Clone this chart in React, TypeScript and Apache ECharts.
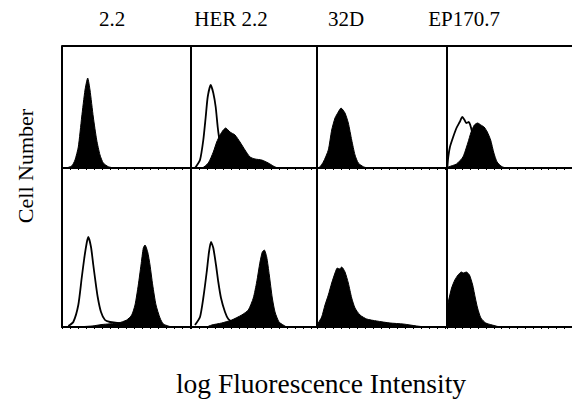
import React, { useEffect, useRef } from "react";
import * as echarts from "echarts";

// Column (cell line) labels
const COLUMN_LABELS = ["2.2", "HER 2.2", "32D", "EP170.7"];
const Y_LABEL = "Cell Number";
const X_LABEL = "log Fluorescence Intensity";

// Histograms: [log fluorescence channel, cell count]
// Top row
const top22Filled = [[0, 0], [3, 0], [9.7, 2], [13, 8], [16.3, 21], [19.7, 51], [23, 78], [25.7, 90], [28, 78], [31.3, 51], [34.7, 28], [38, 13], [41.3, 5], [46.3, 1.3], [53, 0], [129, 0]];
const topHerOpen = [[4, 0], [9, 8], [12.3, 28], [14.7, 51], [16.7, 71], [19.7, 83], [22.3, 75], [24.7, 61], [26.7, 41], [28, 31], [30, 18], [32, 8], [35, 2], [38, 0]];
const topHerFilled = [[0, 0], [10.7, 0], [17.3, 5], [22.3, 16], [25.7, 26], [29, 33], [32.3, 38], [34.7, 40], [39, 36], [44, 33], [49, 26], [54, 18], [59, 11], [64, 9], [70.7, 8], [77.3, 5], [82.3, 2], [87.3, 0], [126, 0]];
const top32DFilled = [[0, 0], [1.3, 0], [6.3, 6], [11.3, 18], [14.7, 38], [18, 50], [21.3, 56], [24, 60], [28, 55], [31.3, 45], [34.7, 28], [38, 13], [41.3, 5], [46.3, 1.3], [51.3, 0], [130, 0]];
const topEpOpen = [[0.3, 0], [1.3, 11], [3, 21], [6.3, 31], [9.7, 40], [13, 46], [15.7, 51], [18, 48], [19.7, 45], [22.3, 46], [24.7, 40], [27, 30], [30, 18], [33, 8], [36, 2], [40, 0]];
const topEpFilled = [[0, 0], [1.3, 1], [9.7, 4], [16.3, 11], [21.3, 25], [24.7, 36], [28, 43], [31.3, 45], [34.7, 43], [38, 41], [41.3, 36], [44.7, 28], [48, 15], [51.3, 6], [56.3, 1.3], [61.3, 0], [128, 0]];
// Bottom row
const bot22Open = [[6.3, 1], [11.3, 5], [16.3, 22], [19.7, 49], [22.3, 69], [24.7, 84], [26.3, 90], [29, 80], [31.3, 62], [33, 49], [35.7, 30], [39, 15], [43, 7], [48, 5], [56, 4], [62, 3], [70, 2], [80, 0]];
const bot22Filled = [[0, 0], [10, 0], [30, 1], [40, 2.5], [56.3, 4], [64.7, 7], [69.7, 12], [73, 22], [76.3, 42], [79, 62], [81.3, 79], [83, 82], [85.7, 75], [88, 62], [90.7, 42], [94, 22], [98, 9], [101.3, 3], [106.3, 1], [110, 0], [129, 0]];
const botHerOpen = [[4, 2], [9, 10], [12.3, 29], [15.7, 55], [18, 75], [20, 85], [22.3, 79], [25, 62], [27.3, 45], [30, 29], [34, 15], [37.3, 8], [42, 5], [50, 3], [60, 1], [70, 0]];
const botHerFilled = [[0, 0], [15, 0], [20.7, 2], [30.7, 4], [40.7, 7], [50.7, 12], [57.3, 17], [62.3, 29], [65.7, 45], [69, 65], [71.3, 75], [73.3, 77], [75.7, 70], [78.3, 52], [81.3, 29], [84, 15], [88, 5], [92.3, 2], [96, 0], [126, 0]];
const bot32DFilled = [[0, 0], [1.3, 4], [4.7, 10], [8, 22], [11.3, 32], [14.7, 44], [18, 54], [20.3, 59], [22.5, 58], [24.7, 60], [28, 55], [31.3, 44], [34.7, 29], [38, 19], [43, 12], [49.7, 8], [59.7, 6], [73, 4], [86.3, 3], [99.7, 1], [110, 0], [130, 0]];
const botEpFilled = [[0, 0], [0.5, 20], [1.3, 25], [4.7, 39], [8, 47], [11.3, 52], [14.7, 55], [17, 54], [19.7, 55], [23, 52], [26.3, 42], [29, 29], [31.3, 19], [34.7, 9], [39.7, 4], [46.3, 2], [55, 0], [128, 0]];

// Layout (pixels)
const LEFTS = [62, 191, 317, 447];
const WIDTHS = [129, 126, 130, 128];
const TOPS = [46, 168];
const HEIGHTS = [122, 159];
const LABEL_X = [112, 231, 346, 464];

const PANELS = [
  { row: 0, col: 0, filled: top22Filled, open: null },
  { row: 0, col: 1, filled: topHerFilled, open: topHerOpen },
  { row: 0, col: 2, filled: top32DFilled, open: null },
  { row: 0, col: 3, filled: topEpFilled, open: topEpOpen },
  { row: 1, col: 0, filled: bot22Filled, open: bot22Open },
  { row: 1, col: 1, filled: botHerFilled, open: botHerOpen },
  { row: 1, col: 2, filled: bot32DFilled, open: null },
  { row: 1, col: 3, filled: botEpFilled, open: null },
];

const FONT = '"Liberation Serif", "Times New Roman", serif';

export default function App() {
  const ref = useRef<HTMLDivElement>(null);
  useEffect(() => {
    const chart = echarts.init(ref.current as HTMLDivElement, null, { renderer: "svg" });
    const grid: any[] = [];
    const xAxis: any[] = [];
    const yAxis: any[] = [];
    const series: any[] = [];
    PANELS.forEach((p, i) => {
      grid.push({ left: LEFTS[p.col], top: TOPS[p.row], width: WIDTHS[p.col], height: HEIGHTS[p.row] });
      xAxis.push({
        gridIndex: i, type: "value", min: 0, max: WIDTHS[p.col], interval: 8,
        axisLine: { show: true, onZero: false, lineStyle: { color: "#000", width: 2 } },
        axisTick: { show: true, length: 2, lineStyle: { color: "#000", width: 1 } },
        axisLabel: { show: false }, splitLine: { show: false },
      });
      yAxis.push({
        gridIndex: i, type: "value", min: 0, max: HEIGHTS[p.row],
        axisLine: { show: true, onZero: false, lineStyle: { color: "#000", width: 2 } },
        axisTick: { show: false }, axisLabel: { show: false }, splitLine: { show: false },
      });
      series.push({
        type: "line", xAxisIndex: i, yAxisIndex: i, data: p.filled, symbol: "none", smooth: 0.2,
        lineStyle: { color: "#000", width: 1 }, areaStyle: { color: "#000", opacity: 1 }, z: 2, silent: true,
      });
      if (p.open) {
        series.push({
          type: "line", xAxisIndex: i, yAxisIndex: i, data: p.open, symbol: "none", smooth: 0.2,
          lineStyle: { color: "#000", width: 1.8 }, z: 3, silent: true,
        });
      }
    });
    const graphic: any[] = [
      { type: "line", shape: { x1: LEFTS[0], y1: TOPS[0], x2: 572, y2: TOPS[0] }, style: { stroke: "#000", lineWidth: 2 } },
      ...COLUMN_LABELS.map((t, i) => ({
        type: "text", x: LABEL_X[i], y: 19,
        style: { text: t, font: `21px ${FONT}`, fill: "#000", textAlign: "center", textVerticalAlign: "middle" },
      })),
      {
        type: "text", x: 25, y: 166, rotation: Math.PI / 2,
        style: { text: Y_LABEL, font: `22px ${FONT}`, fill: "#000", textAlign: "center", textVerticalAlign: "middle" },
      },
      {
        type: "text", x: 321, y: 383,
        style: { text: X_LABEL, font: `27.5px ${FONT}`, fill: "#000", textAlign: "center", textVerticalAlign: "middle" },
      },
    ];
    chart.setOption({ animation: false, backgroundColor: "#fff", grid, xAxis, yAxis, series, graphic });
    return () => chart.dispose();
  }, []);
  return <div ref={ref} style={{ position: "fixed", left: 0, top: 0, width: 572, height: 400 }} />;
}
